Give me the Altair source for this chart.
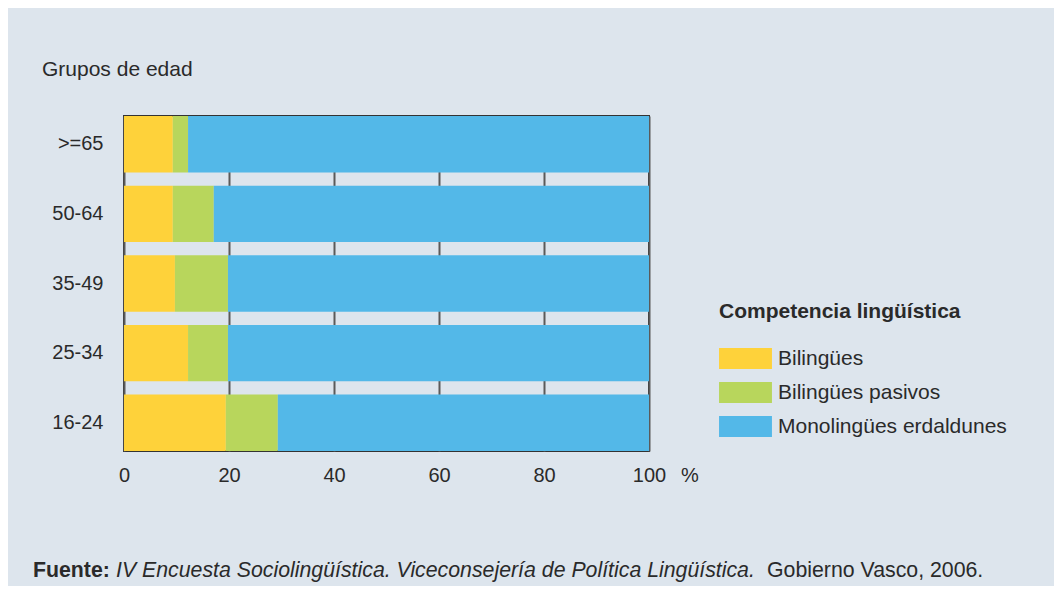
import altair as alt
import pandas as pd

groups = [">=65", "50-64", "35-49", "25-34", "16-24"]
categories = ["Bilingües", "Bilingües pasivos", "Monolingües erdaldunes"]
bilingues = [9.3, 9.3, 9.7, 12.2, 19.4]
pasivos = [2.9, 7.8, 10.1, 7.6, 9.9]
monolingues = [87.8, 82.9, 80.2, 80.2, 70.7]
colors = ["#fed23a", "#b8d65c", "#53b8e8"]
x_ticks = [0, 20, 40, 60, 80, 100]

BG = "#dde5ed"
INK = "#2a2a2a"
W, H = 525, 335
FS = 21.3

rows = []
for i, g in enumerate(groups):
    for k, (cat, vals) in enumerate(zip(categories, [bilingues, pasivos, monolingues])):
        rows.append({"grupo": g, "competencia": cat, "valor": vals[i], "orden": k})
df = pd.DataFrame(rows)

bars = alt.Chart(df).mark_bar().encode(
    y=alt.Y("grupo:N", sort=groups, title=None,
            scale=alt.Scale(paddingInner=0.19, paddingOuter=0),
            axis=alt.Axis(domain=False, ticks=False, tickSize=0, labelPadding=21,
                          labelFontSize=20, labelColor=INK, labelFont="Liberation Sans",
                          grid=False)),
    x=alt.X("valor:Q", stack="zero", title=None,
            scale=alt.Scale(domain=[0, 100], nice=False),
            axis=alt.Axis(values=x_ticks, domain=False, ticks=False, tickSize=0,
                          labelPadding=14, labelFontSize=20, labelColor=INK,
                          labelFont="Liberation Sans", labelFlush=False,
                          grid=True, gridColor="#5a5a5a",
                          gridWidth=2, gridOpacity=1)),
    color=alt.Color("competencia:N", sort=categories,
                    scale=alt.Scale(domain=categories, range=colors),
                    legend=alt.Legend(title="Competencia lingüística", orient="none",
                                      legendX=595, legendY=185, padding=0,
                                      titleFontSize=21, titleFontWeight="bold",
                                      titleColor=INK, titleFont="Liberation Sans",
                                      titlePadding=26, titleLimit=500,
                                      labelFontSize=21, labelColor=INK,
                                      labelFont="Liberation Sans", labelLimit=500,
                                      symbolType="M-2.52,-1H2.52V1H-2.52Z",
                                      symbolSize=441, symbolStrokeWidth=0,
                                      symbolOpacity=1, symbolOffset=16,
                                      labelOffset=22, rowPadding=12)),
    order=alt.Order("orden:Q"),
)

ylab = alt.Chart(pd.DataFrame({"t": ["Grupos de edad"]})).mark_text(
    align="left", baseline="alphabetic", fontSize=21, color=INK, font="Liberation Sans"
).encode(x=alt.value(-82), y=alt.value(-40), text="t:N")

pct = alt.Chart(pd.DataFrame({"t": ["%"]})).mark_text(
    align="center", baseline="alphabetic", fontSize=20, color=INK, font="Liberation Sans", dx=41
).encode(x=alt.datum(100), y=alt.value(366), text="t:N")

f1 = alt.Chart(pd.DataFrame({"t": ["Fuente:"]})).mark_text(
    align="left", baseline="alphabetic", fontSize=FS, color=INK, font="Liberation Sans",
    fontWeight="bold"
).encode(x=alt.value(33 - 124), y=alt.value(461), text="t:N")

f2 = alt.Chart(pd.DataFrame({"t": ["IV Encuesta Sociolingüística. Viceconsejería de Política Lingüística."]})).mark_text(
    align="left", baseline="alphabetic", fontSize=FS, color=INK, font="Liberation Sans",
    fontStyle="italic"
).encode(x=alt.value(116 - 124), y=alt.value(461), text="t:N")

f3 = alt.Chart(pd.DataFrame({"t": ["Gobierno Vasco, 2006."]})).mark_text(
    align="left", baseline="alphabetic", fontSize=FS, color=INK, font="Liberation Sans"
).encode(x=alt.value(767 - 124), y=alt.value(461), text="t:N")

chart = alt.layer(bars, ylab, pct, f1, f2, f3).properties(
    width=W, height=H,
    autosize=alt.AutoSizeParams(type="none"),
    padding={"left": 116, "top": 108, "right": 405, "bottom": 135},
    background=BG,
).configure_view(
    fill=BG, stroke="#333333", strokeWidth=2
)

chart.save("out.html", embed_options={"renderer": "svg", "actions": False})
